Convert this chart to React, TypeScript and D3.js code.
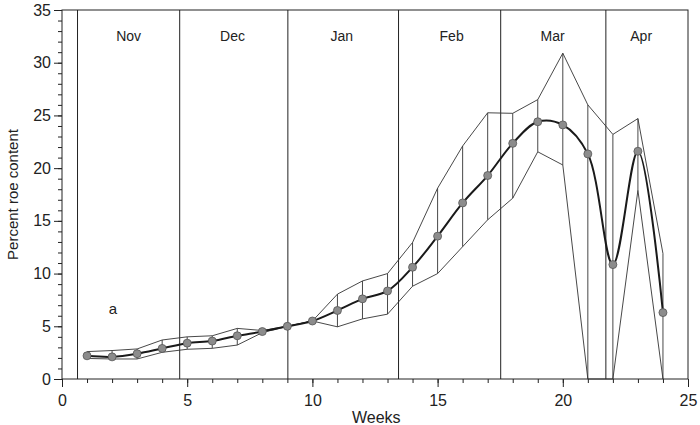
import React, { useRef, useEffect } from 'react';
import * as d3 from 'd3';

// weekly roe content, mean with upper / lower range
const weeks = [1, 2, 3, 4, 5, 6, 7, 8, 9, 10, 11, 12, 13, 14, 15, 16, 17, 18, 19, 20, 21, 22, 23, 24];
const meanRoe = [2.2, 2.1, 2.4, 2.9, 3.4, 3.6, 4.1, 4.5, 5.0, 5.5, 6.5, 7.6, 8.35, 10.6, 13.55, 16.7, 19.3, 22.35, 24.4, 24.1, 21.35, 10.85, 21.6, 6.3];
const upperRoe = [2.6, 2.7, 2.85, 3.7, 4.0, 4.1, 4.8, 4.6, 5.0, 5.5, 8.05, 9.3, 10.0, 12.95, 18.1, 22.1, 25.25, 25.2, 26.5, 30.9, 26.0, 23.2, 24.7, 11.9];
const lowerRoe = [1.95, 1.9, 1.9, 2.53, 2.82, 2.91, 3.22, 4.4, 5.0, 5.5, 4.95, 5.7, 6.15, 8.8, 10.0, 12.55, 15.1, 17.15, 21.55, 20.3, 0, 0, 17.9, 0];

// month boundaries (in weeks) and label positions
const monthBounds = [0.62, 4.7, 9.02, 13.44, 17.52, 21.72];
const months = ['Nov', 'Dec', 'Jan', 'Feb', 'Mar', 'Apr'];
const monthLabelAt = [2.66, 6.81, 11.17, 15.56, 19.59, 23.13];

const xTicks = [0, 5, 10, 15, 20, 25];
const yTicks = [0, 5, 10, 15, 20, 25, 30, 35];

const Chart = ({ width, height }) => {
  const ref = useRef(null);

  useEffect(() => {
    const margin = { top: 10, right: 12, bottom: 46, left: 62 };
    const w = width - margin.left - margin.right;
    const h = height - margin.top - margin.bottom;
    const font = '"Liberation Sans", Arial, sans-serif';

    d3.select(ref.current).selectAll('*').remove();

    const svg = d3.select(ref.current)
      .append('svg')
      .attr('width', width)
      .attr('height', height)
      .style('font-family', font)
      .append('g')
      .attr('transform', `translate(${margin.left},${margin.top})`);

    const x = d3.scaleLinear().domain([0, 25]).range([0, w]);
    const y = d3.scaleLinear().domain([0, 35]).range([h, 0]);

    const ink = '#222';

    // frame
    svg.append('rect')
      .attr('width', w).attr('height', h)
      .attr('fill', 'none').attr('stroke', ink).attr('stroke-width', 1);

    // month dividers
    svg.selectAll('.month-line')
      .data(monthBounds)
      .enter()
      .append('line')
      .attr('x1', d => x(d)).attr('x2', d => x(d))
      .attr('y1', 0).attr('y2', h)
      .attr('stroke', ink).attr('stroke-width', 1);

    svg.selectAll('.month-label')
      .data(months)
      .enter()
      .append('text')
      .attr('x', (d, i) => x(monthLabelAt[i]))
      .attr('y', 31)
      .attr('text-anchor', 'middle')
      .attr('font-size', 14)
      .attr('fill', ink)
      .text(d => d);

    // x axis
    const xMinor = svg.append('g').attr('transform', `translate(0,${h})`);
    xMinor.call(d3.axisBottom(x).tickValues(d3.range(0, 26, 1)).tickSize(4).tickFormat(() => ''));
    xMinor.select('.domain').remove();
    const xMajor = svg.append('g').attr('transform', `translate(0,${h})`);
    xMajor.call(d3.axisBottom(x).tickValues(xTicks).tickSize(8).tickPadding(8));
    xMajor.select('.domain').remove();
    xMajor.selectAll('text').attr('font-size', 16).attr('fill', ink).style('font-family', font);

    // y axis
    const yMinor = svg.append('g');
    yMinor.call(d3.axisLeft(y).tickValues(d3.range(0, 36, 1)).tickSize(4).tickFormat(() => ''));
    yMinor.select('.domain').remove();
    const yMajor = svg.append('g');
    yMajor.call(d3.axisLeft(y).tickValues(yTicks).tickSize(8).tickPadding(3));
    yMajor.select('.domain').remove();
    yMajor.selectAll('text').attr('font-size', 16).attr('fill', ink).style('font-family', font);
    svg.selectAll('.tick line').attr('stroke', ink);

    // range lines
    const rangeLine = d3.line().x((d, i) => x(weeks[i])).y(d => y(d));
    [upperRoe, lowerRoe].forEach(series => {
      svg.append('path')
        .attr('d', rangeLine(series))
        .attr('fill', 'none')
        .attr('stroke', '#333')
        .attr('stroke-width', 0.9);
    });

    svg.selectAll('.bar')
      .data(weeks)
      .enter()
      .append('line')
      .attr('x1', d => x(d)).attr('x2', d => x(d))
      .attr('y1', (d, i) => y(lowerRoe[i]))
      .attr('y2', (d, i) => y(upperRoe[i]))
      .attr('stroke', '#333')
      .attr('stroke-width', 0.9);

    // mean curve
    const meanLine = d3.line()
      .x((d, i) => x(weeks[i]))
      .y(d => y(d))
      .curve(d3.curveCatmullRom.alpha(0.5));
    svg.append('path')
      .attr('d', meanLine(meanRoe))
      .attr('fill', 'none')
      .attr('stroke', '#1a1a1a')
      .attr('stroke-width', 2);

    svg.selectAll('.pt')
      .data(weeks)
      .enter()
      .append('circle')
      .attr('cx', d => x(d))
      .attr('cy', (d, i) => y(meanRoe[i]))
      .attr('r', 4)
      .attr('fill', '#8c8c8c')
      .attr('stroke', '#555')
      .attr('stroke-width', 0.8);

    // panel letter
    svg.append('text')
      .attr('x', x(2.03))
      .attr('y', y(6.2))
      .attr('text-anchor', 'middle')
      .attr('font-size', 15)
      .attr('fill', ink)
      .text('a');

    // axis titles
    svg.append('text')
      .attr('x', x(12.55))
      .attr('y', h + 44)
      .attr('text-anchor', 'middle')
      .attr('font-size', 16)
      .attr('fill', ink)
      .text('Weeks');

    svg.append('text')
      .attr('transform', `translate(${-44},${y(17.5)}) rotate(-90)`)
      .attr('text-anchor', 'middle')
      .attr('font-size', 15)
      .attr('fill', ink)
      .text('Percent roe content');
  }, [width, height]);

  return <div ref={ref}></div>;
};

export default function App() {
  return (
    <div style={{ position: 'fixed', left: 0, top: 0, background: '#fff' }}>
      <Chart width={700} height={425} />
    </div>
  );
}
